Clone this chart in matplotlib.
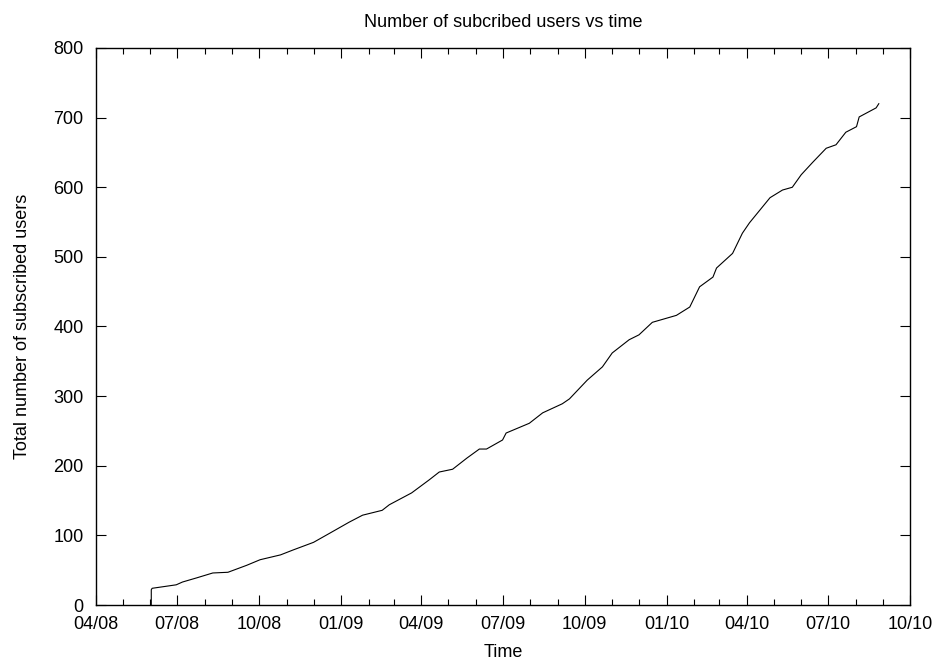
import matplotlib.pyplot as plt
import matplotlib.dates as mdates
import numpy as np
import datetime as dt

# cumulative subscribed users
dates = ["2008-06-02", "2008-06-02", "2008-06-03", "2008-06-30", "2008-07-07",
         "2008-07-23", "2008-08-10", "2008-08-27", "2008-09-17", "2008-10-02",
         "2008-10-25", "2008-11-08", "2008-12-01", "2008-12-19", "2009-01-10",
         "2009-01-25", "2009-02-16", "2009-02-24", "2009-03-21", "2009-04-10",
         "2009-04-21", "2009-05-06", "2009-05-22", "2009-06-05", "2009-06-13",
         "2009-07-01", "2009-07-05", "2009-07-31", "2009-08-15", "2009-09-06",
         "2009-09-14", "2009-10-04", "2009-10-21", "2009-11-01", "2009-11-20",
         "2009-12-01", "2009-12-16", "2010-01-12", "2010-01-27", "2010-02-07",
         "2010-02-22", "2010-02-26", "2010-03-16", "2010-03-27", "2010-04-04",
         "2010-04-27", "2010-05-11", "2010-05-22", "2010-06-01", "2010-06-14",
         "2010-06-29", "2010-07-10", "2010-07-21", "2010-08-02", "2010-08-05",
         "2010-08-24", "2010-08-27"]
users = [0, 22, 24, 29, 33,
         39, 46, 47, 57, 65,
         72, 79, 90, 103, 119,
         129, 136, 144, 161, 180,
         191, 195, 211, 224, 224,
         237, 247, 261, 276, 289,
         296, 323, 342, 362, 381,
         388, 406, 416, 428, 457,
         471, 484, 505, 534, 549,
         585, 596, 600, 618, 636,
         656, 661, 679, 687, 701,
         714, 720]

x = [dt.datetime.strptime(d, "%Y-%m-%d") for d in dates]

plt.rcParams['font.family'] = ['Liberation Sans', 'DejaVu Sans']
plt.rcParams['font.size'] = 13

fig = plt.figure(figsize=(9.42, 6.6), dpi=100)
ax = fig.add_axes([96/942, 55/660, 814/942, 557/660])

ax.plot(x, users, color='black', linewidth=0.8)

ax.set_xlim(dt.datetime(2008, 4, 1), dt.datetime(2010, 10, 1))
ax.set_ylim(0, 800)
ax.set_yticks(np.arange(0, 801, 100))
ax.xaxis.set_major_locator(mdates.MonthLocator(bymonth=[1, 4, 7, 10]))
ax.xaxis.set_minor_locator(mdates.MonthLocator())
ax.xaxis.set_major_formatter(mdates.DateFormatter("%m/%y"))

ax.tick_params(which='both', direction='in', top=True, right=True, width=0.8)
ax.tick_params(axis='y', pad=9)
ax.tick_params(axis='x', pad=8)
ax.tick_params(which='major', length=7)
ax.tick_params(which='minor', length=4)
for s in ax.spines.values():
    s.set_linewidth(1.0)

ax.set_title("Number of subcribed users vs time", fontsize=13, pad=15)
ax.set_xlabel("Time", labelpad=8)
ax.set_ylabel("Total number of subscribed users", labelpad=16)

plt.savefig("out.png", dpi=100)
